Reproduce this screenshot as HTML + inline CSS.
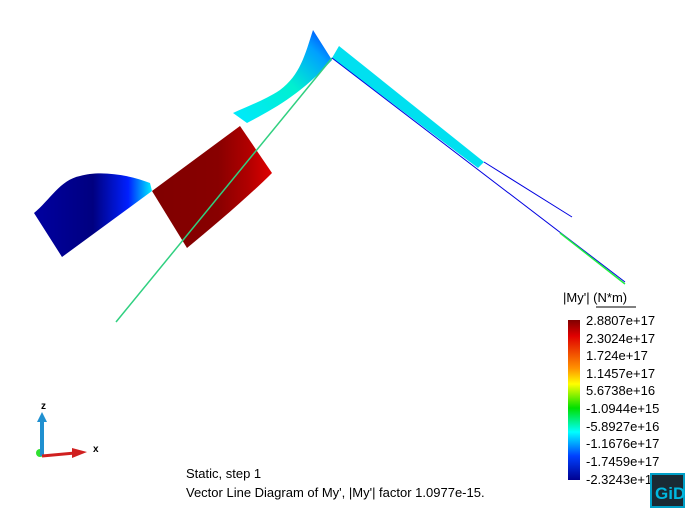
<!DOCTYPE html>
<html><head><style>
body{margin:0;background:#fff;width:688px;height:519px;overflow:hidden;font-family:"Liberation Sans",sans-serif}
</style></head><body>
<svg width="688" height="519" viewBox="0 0 688 519" xmlns="http://www.w3.org/2000/svg" font-family="Liberation Sans, sans-serif">
<defs>
<linearGradient id="bl" x1="0" x2="1" y1="0" y2="0">
<stop offset="0" stop-color="#0000a0"/><stop offset="0.5" stop-color="#000080"/><stop offset="0.8" stop-color="#0020ff"/><stop offset="1" stop-color="#00f0ff"/></linearGradient>
<linearGradient id="rd" x1="0" x2="1" y1="0" y2="0">
<stop offset="0" stop-color="#800000"/><stop offset="0.55" stop-color="#880000"/><stop offset="0.8" stop-color="#b00000"/><stop offset="1" stop-color="#e00000"/></linearGradient>
<linearGradient id="cy" x1="0" x2="1" y1="1" y2="0">
<stop offset="0" stop-color="#00e8ff"/><stop offset="0.5" stop-color="#00f0d0"/><stop offset="0.8" stop-color="#00a0ff"/><stop offset="1" stop-color="#0030ff"/></linearGradient>
<linearGradient id="cb" x1="0" x2="0" y1="0" y2="1">
<stop offset="0" stop-color="#800000"/><stop offset="0.1" stop-color="#e00000"/><stop offset="0.3" stop-color="#ff9000"/><stop offset="0.4" stop-color="#ffff00"/><stop offset="0.55" stop-color="#00e000"/><stop offset="0.7" stop-color="#00ffff"/><stop offset="0.85" stop-color="#0040ff"/><stop offset="1" stop-color="#000090"/></linearGradient>
</defs>
<path d="M34,213 C50,200 60,180 80,176 C100,170 130,175 150,183 L152,191 L62,257 Z" fill="url(#bl)"/>
<path d="M152,191 L240,126 L272,173 C250,195 215,225 187,248 Z" fill="url(#rd)"/>
<path d="M233,113 L247,123 C275,108 300,95 332,60 L313,30 C305,55 300,75 280,90 C265,100 250,105 233,113 Z" fill="url(#cy)"/>
<path d="M332,58 L339,46 L484,162 L478,168 Z" fill="#00e0f0"/>
<line x1="332" y1="58" x2="116" y2="322" stroke="#30d080" stroke-width="1.5"/>
<line x1="332" y1="58" x2="625" y2="282" stroke="#0000e0" stroke-width="1"/>
<line x1="484" y1="162" x2="572" y2="217" stroke="#0000e0" stroke-width="1"/>
<line x1="560" y1="233" x2="625" y2="284" stroke="#20f040" stroke-width="1.5"/>
<rect x="568" y="320" width="12" height="160" fill="url(#cb)"/>
<g font-size="13" fill="#000">
<text x="563" y="302">|My'| (N*m)</text>
<line x1="596" y1="307" x2="636" y2="307" stroke="#000"/>
<text x="586" y="325">2.8807e+17</text>
<text x="586" y="343">2.3024e+17</text>
<text x="586" y="360">1.724e+17</text>
<text x="586" y="378">1.1457e+17</text>
<text x="586" y="395">5.6738e+16</text>
<text x="586" y="413">-1.0944e+15</text>
<text x="586" y="431">-5.8927e+16</text>
<text x="586" y="448">-1.1676e+17</text>
<text x="586" y="466">-1.7459e+17</text>
<text x="586" y="484">-2.3243e+17</text>
<text x="186" y="478">Static, step 1</text>
<text x="186" y="497">Vector Line Diagram of My', |My'| factor 1.0977e-15.</text>
</g>
<rect x="651" y="474" width="33" height="33" fill="#1a2a34" stroke="#00a0c8" stroke-width="2"/>
<text x="655" y="499" font-size="17" fill="#00b8e0" font-weight="bold">GiD</text>
<circle cx="40" cy="453" r="4" fill="#30e030"/>
<line x1="42" y1="456" x2="42" y2="420" stroke="#2090d0" stroke-width="4"/>
<polygon points="37,422 47,422 42,412" fill="#2090d0"/>
<line x1="42" y1="456" x2="75" y2="453" stroke="#d02020" stroke-width="3"/>
<polygon points="72,448 87,452 72,458" fill="#d02020"/>
<text x="41" y="409" font-size="10" font-weight="bold">z</text>
<text x="93" y="452" font-size="10" font-weight="bold">x</text>
</svg>
</body></html>
